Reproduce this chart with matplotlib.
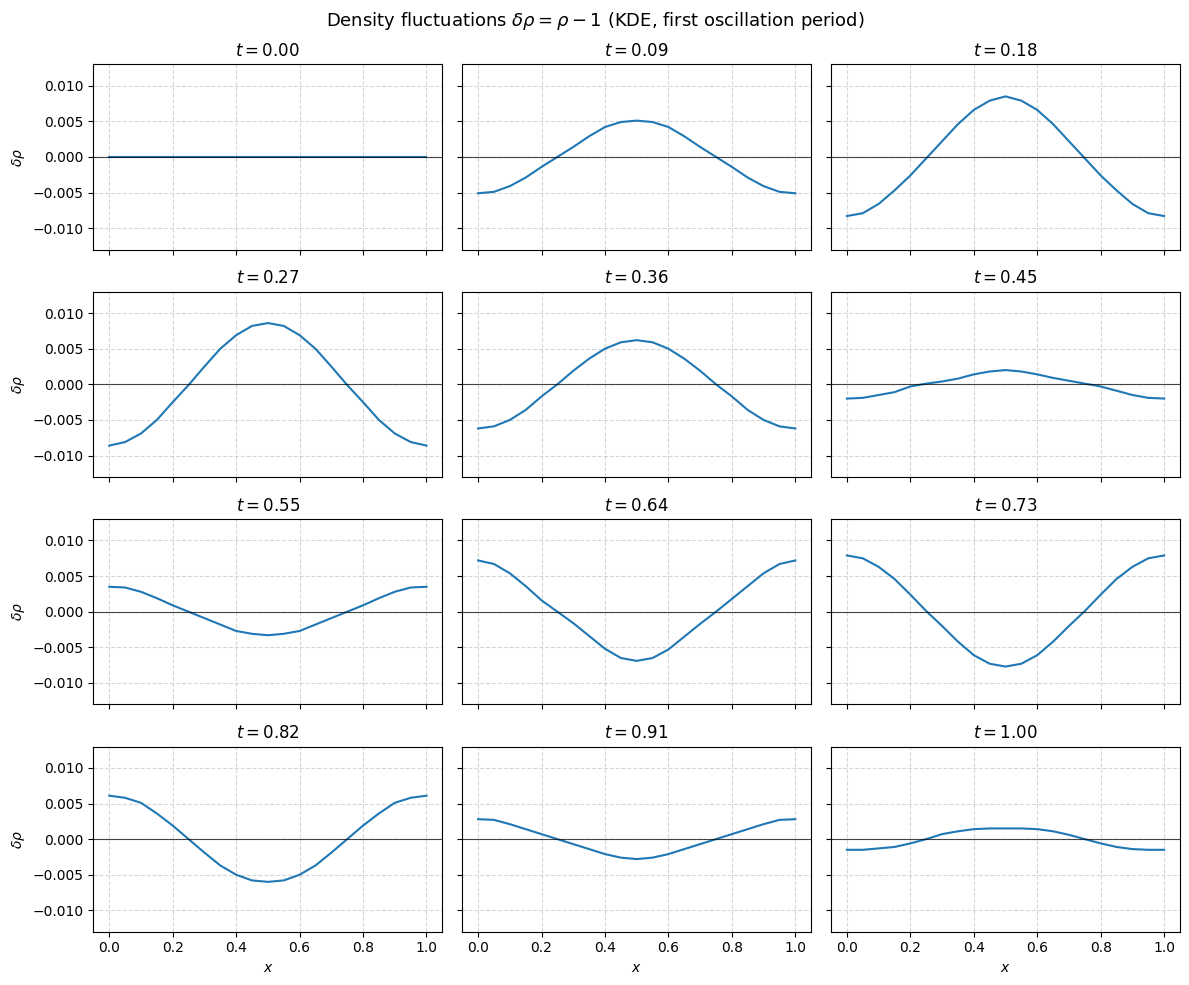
import matplotlib
matplotlib.use("Agg")
import matplotlib.pyplot as plt

# grid points (21 samples on [0, 1])
x = [0.00, 0.05, 0.10, 0.15, 0.20, 0.25, 0.30, 0.35, 0.40, 0.45, 0.50,
     0.55, 0.60, 0.65, 0.70, 0.75, 0.80, 0.85, 0.90, 0.95, 1.00]

times = [0.00, 0.09, 0.18, 0.27, 0.36, 0.45, 0.55, 0.64, 0.73, 0.82, 0.91, 1.00]

# density fluctuation snapshots
drho_000 = [0.0000] * 21
drho_009 = [-0.0051, -0.0049, -0.0041, -0.0029, -0.0014, 0.0000, 0.0014, 0.0029, 0.0042, 0.0049, 0.0051,
            0.0049, 0.0042, 0.0029, 0.0014, 0.0000, -0.0014, -0.0029, -0.0041, -0.0049, -0.0051]
drho_018 = [-0.0083, -0.0079, -0.0066, -0.0047, -0.0026, -0.0002, 0.0022, 0.0046, 0.0066, 0.0079, 0.0085,
            0.0079, 0.0066, 0.0046, 0.0022, -0.0002, -0.0026, -0.0047, -0.0066, -0.0079, -0.0083]
drho_027 = [-0.0086, -0.0081, -0.0069, -0.0050, -0.0025, -0.0001, 0.0025, 0.0050, 0.0069, 0.0082, 0.0086,
            0.0082, 0.0069, 0.0050, 0.0025, -0.0001, -0.0025, -0.0050, -0.0069, -0.0081, -0.0086]
drho_036 = [-0.0062, -0.0059, -0.0050, -0.0036, -0.0017, 0.0000, 0.0019, 0.0036, 0.0050, 0.0059, 0.0062,
            0.0059, 0.0050, 0.0036, 0.0019, 0.0000, -0.0017, -0.0036, -0.0050, -0.0059, -0.0062]
drho_045 = [-0.0020, -0.0019, -0.0015, -0.0011, -0.0003, 0.0001, 0.0004, 0.0008, 0.0014, 0.0018, 0.0020,
            0.0018, 0.0014, 0.0009, 0.0005, 0.0001, -0.0003, -0.0009, -0.0015, -0.0019, -0.0020]
drho_055 = [0.0035, 0.0034, 0.0028, 0.0019, 0.0009, 0.0000, -0.0009, -0.0018, -0.0027, -0.0031, -0.0033,
            -0.0031, -0.0027, -0.0018, -0.0009, 0.0000, 0.0009, 0.0019, 0.0028, 0.0034, 0.0035]
drho_064 = [0.0072, 0.0067, 0.0054, 0.0036, 0.0016, 0.0000, -0.0016, -0.0034, -0.0052, -0.0065, -0.0069,
            -0.0065, -0.0053, -0.0035, -0.0017, 0.0000, 0.0018, 0.0036, 0.0054, 0.0067, 0.0072]
drho_073 = [0.0079, 0.0075, 0.0063, 0.0046, 0.0024, 0.0001, -0.0020, -0.0042, -0.0061, -0.0073, -0.0077,
            -0.0073, -0.0061, -0.0042, -0.0020, 0.0001, 0.0024, 0.0046, 0.0063, 0.0075, 0.0079]
drho_082 = [0.0061, 0.0058, 0.0051, 0.0036, 0.0019, 0.0000, -0.0019, -0.0037, -0.0050, -0.0058, -0.0060,
            -0.0058, -0.0050, -0.0037, -0.0019, 0.0000, 0.0019, 0.0036, 0.0051, 0.0058, 0.0061]
drho_091 = [0.0028, 0.0027, 0.0021, 0.0014, 0.0007, 0.0000, -0.0007, -0.0014, -0.0021, -0.0026, -0.0028,
            -0.0026, -0.0021, -0.0014, -0.0007, 0.0000, 0.0007, 0.0014, 0.0021, 0.0027, 0.0028]
drho_100 = [-0.0015, -0.0015, -0.0013, -0.0011, -0.0006, 0.0000, 0.0007, 0.0011, 0.0014, 0.0015, 0.0015,
            0.0015, 0.0014, 0.0011, 0.0006, 0.0000, -0.0006, -0.0011, -0.0014, -0.0015, -0.0015]

snapshots = [drho_000, drho_009, drho_018, drho_027, drho_036, drho_045,
             drho_055, drho_064, drho_073, drho_082, drho_091, drho_100]

fig, axes = plt.subplots(4, 3, figsize=(12, 10), sharex=True, sharey=True)
for ax, t, d in zip(axes.flat, times, snapshots):
    ax.plot(x, d, color="C0")
    ax.axhline(0, color="k", lw=0.8, alpha=0.7)
    ax.set_title(f"$t = {t:.2f}$")
    ax.grid(True, ls="--", alpha=0.5)
    ax.set_ylim(-0.013, 0.013)
for ax in axes[:, 0]:
    ax.set_ylabel(r"$\delta\rho$")
for ax in axes[-1, :]:
    ax.set_xlabel("$x$")
fig.suptitle(r"Density fluctuations $\delta\rho = \rho - 1$ (KDE, first oscillation period)", fontsize=13)
fig.tight_layout()
fig.savefig("out.png", dpi=100, bbox_inches="tight")
